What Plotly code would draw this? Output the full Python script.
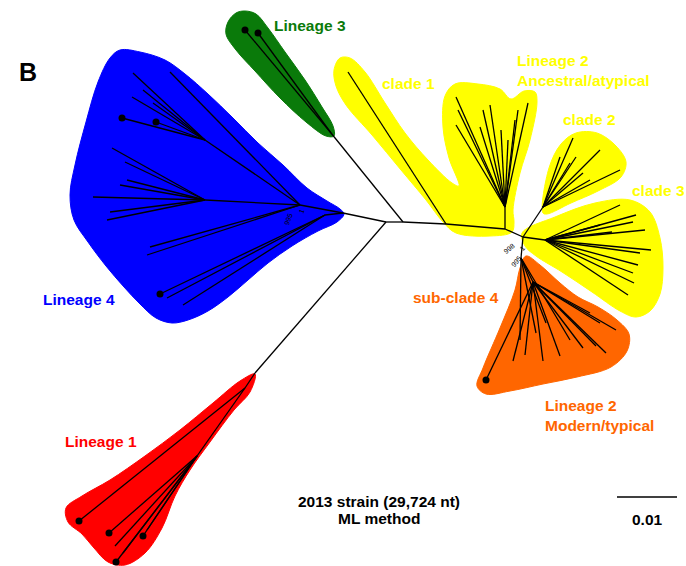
import plotly.graph_objects as go

W, H = 686, 566

# ---- clade envelopes (outline vertices in chart units) ----
blue_x = [120, 140, 165, 185, 208, 233, 258, 283, 307, 327, 340, 344, 337, 318, 292, 268, 248, 228, 208, 188, 172, 156, 140, 124, 106, 88, 74, 70, 75, 86, 98, 110]
blue_y = [50, 52, 60, 74, 94, 118, 143, 165, 188, 201, 209, 214, 222, 231, 246, 263, 280, 297, 311, 320, 323, 318, 304, 287, 266, 242, 220, 195, 165, 122, 82, 58]

green_x = [245, 256, 268, 285, 305, 322, 333, 334, 326, 306, 280, 255, 236, 226, 228, 236]
green_y = [11, 14, 28, 52, 80, 107, 126, 136, 136, 122, 98, 71, 50, 34, 22, 13]

yellow_x = [334, 336, 346, 372, 401, 426, 443, 456, 490, 512, 514, 513, 520, 530, 537, 535, 524, 511, 500, 478, 455, 445, 443, 449, 459, 452, 428, 405, 385, 365, 350, 340]
yellow_y = [70, 86, 105, 135, 170, 200, 222, 233, 236, 232, 222, 210, 173, 140, 102, 92, 91, 99, 89, 84, 84, 96, 127, 158, 186, 183, 160, 133, 103, 72, 58, 58]

clade2_x = [543, 549, 561, 576, 597, 616, 626, 621, 598, 571, 547]
clade2_y = [213, 168, 144, 133, 133, 146, 162, 177, 191, 203, 214]

clade3_x = [522, 555, 595, 630, 650, 660, 663, 660, 650, 636, 620, 592, 562, 536, 525]
clade3_y = [233, 217, 203, 200, 212, 238, 268, 294, 311, 317, 311, 292, 272, 256, 246]

orange_x = [526, 540, 560, 578, 598, 617, 629, 627, 611, 577, 543, 510, 486, 477, 483, 500, 515, 520]
orange_y = [256, 265, 283, 297, 307, 320, 334, 351, 367, 377, 384, 391, 394, 386, 368, 328, 290, 268]

red_x = [255, 250, 234, 210, 190, 175, 162, 145, 125, 108, 94, 82, 68, 66, 82, 110, 145, 180, 213, 240]
red_y = [374, 392, 410, 442, 470, 496, 528, 553, 565, 562, 548, 534, 522, 508, 496, 480, 456, 430, 403, 381]

# ---- tree: node positions and parent index (-1 = none) ----
node_x = [386, 343, 300, 205, 205, 325,            # 0-5 backbone / L4 internal
          403, 331, 446, 505, 523,                 # 6-10 backbone to L2
          255, 245, 197,                           # 11-13 L1 internal
          505, 543, 545, 521, 533]                 # 14-18 L2 internal
node_y = [222, 213, 205, 140, 200, 215,
          222, 133, 224, 229, 237,
          373, 388, 456,
          207, 207, 240, 258, 282]
node_parent = [-1, 0, 1, 2, 2, 1,
               0, 6, 6, 8, 9,
               0, 11, 12,
               9, 10, 10, 10, 17]

# leaves: x, y, parent node, dotted end (1) or plain (0)
leaf_x = [133, 143, 132, 153, 122, 156, 170,
          112, 125, 127, 120, 93, 110, 107,
          150, 147, 160, 167, 183,
          245, 258,
          79, 109, 115, 143, 123, 116, 147,
          348,
          456, 458, 456, 480, 483, 490, 501, 508, 518, 528, 515,
          573, 560, 576, 600, 620, 590, 583, 570,
          620, 636, 633, 645, 651, 640, 638, 633, 634, 628, 600, 612,
          486, 513, 525, 543, 560, 583, 596, 606, 616, 600, 590, 536, 546, 520, 570]
leaf_y = [73, 90, 97, 103, 118, 122, 72,
          148, 162, 180, 185, 197, 212, 220,
          247, 255, 294, 298, 305,
          30, 33,
          521, 533, 546, 536, 553, 562, 530,
          72,
          97, 110, 125, 127, 110, 105, 130, 140, 110, 103, 120,
          138, 157, 157, 150, 170, 180, 173, 163,
          205, 215, 222, 230, 250, 253, 265, 273, 283, 295, 225, 232,
          380, 361, 355, 361, 356, 348, 346, 353, 330, 323, 313, 333, 323, 340, 340]
leaf_parent = [3, 3, 3, 3, 3, 3, 2,
               4, 4, 4, 4, 4, 4, 4,
               2, 2, 5, 5, 5,
               7, 7,
               12, 13, 13, 13, 13, 13, 13,
               8,
               14, 14, 14, 14, 14, 14, 14, 14, 14, 14, 14,
               15, 15, 15, 15, 15, 15, 15, 15,
               16, 16, 16, 16, 16, 16, 16, 16, 16, 16, 16, 16,
               18, 18, 18, 18, 18, 18, 18, 18, 18, 18, 18, 17, 17, 17, 17]
leaf_dot = [0, 0, 0, 0, 1, 1, 0,
            0, 0, 0, 0, 0, 0, 0,
            0, 0, 1, 0, 0,
            1, 1,
            1, 1, 0, 1, 0, 1, 0,
            0,
            0, 0, 0, 0, 0, 0, 0, 0, 0, 0, 0,
            0, 0, 0, 0, 0, 0, 0, 0,
            0, 0, 0, 0, 0, 0, 0, 0, 0, 0, 0, 0,
            1, 0, 0, 0, 0, 0, 0, 0, 0, 0, 0, 0, 0, 0, 0]

fig = go.Figure()


def envelope(xs, ys, color):
    fig.add_trace(go.Scatter(
        x=xs + [xs[0]], y=ys + [ys[0]], mode="lines", fill="toself",
        fillcolor=color, line=dict(color=color, width=1, shape="spline", smoothing=1.0),
        hoverinfo="skip", showlegend=False))


envelope(blue_x, blue_y, "#0000FF")
envelope(green_x, green_y, "#0A7A0A")
envelope(yellow_x, yellow_y, "#FFFF00")
envelope(clade2_x, clade2_y, "#FFFF00")
envelope(clade3_x, clade3_y, "#FFFF00")
envelope(orange_x, orange_y, "#FF6600")
envelope(red_x, red_y, "#FF0000")

# branch segments
seg_x, seg_y = [], []
for i, p in enumerate(node_parent):
    if p >= 0:
        seg_x += [node_x[p], node_x[i], None]
        seg_y += [node_y[p], node_y[i], None]
for x, y, p in zip(leaf_x, leaf_y, leaf_parent):
    seg_x += [node_x[p], x, None]
    seg_y += [node_y[p], y, None]
fig.add_trace(go.Scatter(x=seg_x, y=seg_y, mode="lines",
                         line=dict(color="black", width=1.3),
                         hoverinfo="skip", showlegend=False))

dot_x = [x for x, d in zip(leaf_x, leaf_dot) if d]
dot_y = [y for y, d in zip(leaf_y, leaf_dot) if d]
fig.add_trace(go.Scatter(x=dot_x, y=dot_y, mode="markers",
                         marker=dict(color="black", size=7),
                         hoverinfo="skip", showlegend=False))

# scale bar (0.01 substitutions per site)
scale_len = 0.01
px_per_unit = 6000
fig.add_trace(go.Scatter(x=[617, 617 + scale_len * px_per_unit], y=[497, 497], mode="lines",
                         line=dict(color="black", width=1.5), hoverinfo="skip", showlegend=False))

BOLD = "Liberation Sans"
labels = [
    ("Lineage 3", 310, 25, "#0A7A0A", "center"),
    ("clade 1", 408, 83, "#FFFF00", "center"),
    ("Lineage 2", 515, 60, "#FFFF00", "left"),
    ("Ancestral/atypical", 515, 80, "#FFFF00", "left"),
    ("clade 2", 589, 119, "#FFFF00", "center"),
    ("clade 3", 658, 190, "#FFFF00", "center"),
    ("sub-clade 4", 456, 297, "#FF6600", "center"),
    ("Lineage 2", 543, 405, "#FF6600", "left"),
    ("Modern/typical", 543, 425, "#FF6600", "left"),
    ("Lineage 4", 79, 299, "#0000FF", "center"),
    ("Lineage 1", 101, 441, "#FF0000", "center"),
    ("2013 strain (29,724 nt)", 379, 501, "black", "center"),
    ("ML method", 379, 518, "black", "center"),
    ("0.01", 647, 519, "black", "center"),
]
for txt, x, y, c, al in labels:
    fig.add_annotation(x=x, y=y, text="<b>" + txt + "</b>", showarrow=False,
                       xanchor=al, yanchor="middle", align=al,
                       font=dict(family=BOLD, size=15.5, color=c))

fig.add_annotation(x=28, y=72, text="<b>B</b>", showarrow=False,
                   font=dict(family=BOLD, size=25, color="black"))

# bootstrap support values
for txt, x, y, ang in [("995", 288, 219, -70), ("1", 301, 211, -70),
                       ("998", 509, 248, -40), ("995", 516, 261, -50),
                       ("1", 522, 248, -50)]:
    fig.add_annotation(x=x, y=y, text=txt, showarrow=False, textangle=ang,
                       font=dict(family=BOLD, size=7, color="black"))

fig.update_layout(
    width=W, height=H, margin=dict(l=0, r=0, t=0, b=0),
    paper_bgcolor="white", plot_bgcolor="white",
    xaxis=dict(range=[0, W], visible=False, fixedrange=True),
    yaxis=dict(range=[H, 0], visible=False, fixedrange=True),
)

fig.write_html("out.html")
